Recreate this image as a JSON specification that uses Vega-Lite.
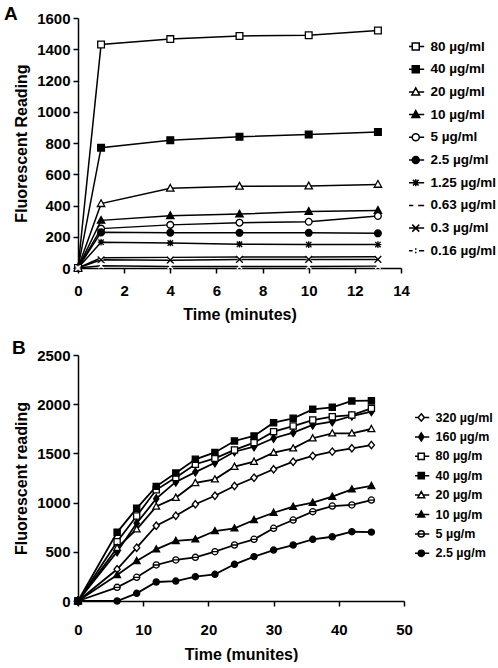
{
  "$schema": "https://vega.github.io/schema/vega-lite/v6.json",
  "background": "white",
  "padding": {"left": 4, "top": 5, "right": 0, "bottom": 0},
  "spacing": 17,
  "resolve": {"scale": {"shape": "independent", "fill": "independent", "stroke": "independent"}, "legend": {"shape": "independent", "fill": "independent", "stroke": "independent"}},
  "config": {
    "view": {"stroke": null},
    "font": "Liberation Sans",
    "axis": {
      "grid": false,
      "domainColor": "black",
      "domainWidth": 1.5,
      "tickColor": "black",
      "tickWidth": 1.5,
      "tickSize": 5,
      "labelFont": "Liberation Sans",
      "labelFontWeight": "bold",
      "labelFontSize": 15,
      "labelColor": "black",
      "labelFlush": false,
      "labelOverlap": false,
      "format": "d",
      "titleFont": "Liberation Sans",
      "titleFontWeight": "bold",
      "titleFontSize": 16,
      "titleColor": "black"
    },
    "axisY": {"labelPadding": 3, "titlePadding": 7},
    "legend": {
      "labelFont": "Liberation Sans",
      "labelFontWeight": "bold",
      "labelColor": "black",
      "padding": 0,
      "symbolStrokeWidth": 1.5,
      "symbolStrokeColor": "black"
    },
    "title": {"font": "Liberation Sans", "fontWeight": "bold", "fontSize": 19, "color": "black"}
  },
  "datasets": {
    "a": [
      {"c": "80 µg/ml", "t": 0, "v": 0}, {"c": "80 µg/ml", "t": 1, "v": 1430}, {"c": "80 µg/ml", "t": 4, "v": 1465}, {"c": "80 µg/ml", "t": 7, "v": 1485}, {"c": "80 µg/ml", "t": 10, "v": 1490}, {"c": "80 µg/ml", "t": 13, "v": 1520},
      {"c": "40 µg/ml", "t": 0, "v": 0}, {"c": "40 µg/ml", "t": 1, "v": 770}, {"c": "40 µg/ml", "t": 4, "v": 818}, {"c": "40 µg/ml", "t": 7, "v": 840}, {"c": "40 µg/ml", "t": 10, "v": 855}, {"c": "40 µg/ml", "t": 13, "v": 870},
      {"c": "20 µg/ml", "t": 0, "v": 0}, {"c": "20 µg/ml", "t": 1, "v": 412}, {"c": "20 µg/ml", "t": 4, "v": 510}, {"c": "20 µg/ml", "t": 7, "v": 523}, {"c": "20 µg/ml", "t": 10, "v": 525}, {"c": "20 µg/ml", "t": 13, "v": 535},
      {"c": "10 µg/ml", "t": 0, "v": 0}, {"c": "10 µg/ml", "t": 1, "v": 305}, {"c": "10 µg/ml", "t": 4, "v": 335}, {"c": "10 µg/ml", "t": 7, "v": 345}, {"c": "10 µg/ml", "t": 10, "v": 362}, {"c": "10 µg/ml", "t": 13, "v": 368},
      {"c": "5 µg/ml", "t": 0, "v": 0}, {"c": "5 µg/ml", "t": 1, "v": 252}, {"c": "5 µg/ml", "t": 4, "v": 276}, {"c": "5 µg/ml", "t": 7, "v": 290}, {"c": "5 µg/ml", "t": 10, "v": 296}, {"c": "5 µg/ml", "t": 13, "v": 333},
      {"c": "2.5 µg/ml", "t": 0, "v": 0}, {"c": "2.5 µg/ml", "t": 1, "v": 228}, {"c": "2.5 µg/ml", "t": 4, "v": 226}, {"c": "2.5 µg/ml", "t": 7, "v": 225}, {"c": "2.5 µg/ml", "t": 10, "v": 225}, {"c": "2.5 µg/ml", "t": 13, "v": 222},
      {"c": "1.25 µg/ml", "t": 0, "v": 0}, {"c": "1.25 µg/ml", "t": 1, "v": 165}, {"c": "1.25 µg/ml", "t": 4, "v": 160}, {"c": "1.25 µg/ml", "t": 7, "v": 152}, {"c": "1.25 µg/ml", "t": 10, "v": 150}, {"c": "1.25 µg/ml", "t": 13, "v": 150},
      {"c": "0.63 µg/ml", "t": 0, "v": 0}, {"c": "0.63 µg/ml", "t": 1, "v": 65}, {"c": "0.63 µg/ml", "t": 4, "v": 68}, {"c": "0.63 µg/ml", "t": 7, "v": 70}, {"c": "0.63 µg/ml", "t": 10, "v": 70}, {"c": "0.63 µg/ml", "t": 13, "v": 72},
      {"c": "0.3 µg/ml", "t": 0, "v": 0}, {"c": "0.3 µg/ml", "t": 1, "v": 52}, {"c": "0.3 µg/ml", "t": 4, "v": 50}, {"c": "0.3 µg/ml", "t": 7, "v": 55}, {"c": "0.3 µg/ml", "t": 10, "v": 55}, {"c": "0.3 µg/ml", "t": 13, "v": 55},
      {"c": "0.16 µg/ml", "t": 0, "v": 0}, {"c": "0.16 µg/ml", "t": 1, "v": 15}, {"c": "0.16 µg/ml", "t": 4, "v": 10}, {"c": "0.16 µg/ml", "t": 7, "v": 10}, {"c": "0.16 µg/ml", "t": 10, "v": 10}, {"c": "0.16 µg/ml", "t": 13, "v": 12}
    ],
    "b": [
      {"c": "320 µg/ml", "t": 0, "v": 0}, {"c": "320 µg/ml", "t": 6, "v": 322}, {"c": "320 µg/ml", "t": 9, "v": 542}, {"c": "320 µg/ml", "t": 12, "v": 765}, {"c": "320 µg/ml", "t": 15, "v": 867}, {"c": "320 µg/ml", "t": 18, "v": 983}, {"c": "320 µg/ml", "t": 21, "v": 1070}, {"c": "320 µg/ml", "t": 24, "v": 1169}, {"c": "320 µg/ml", "t": 27, "v": 1253}, {"c": "320 µg/ml", "t": 30, "v": 1339}, {"c": "320 µg/ml", "t": 33, "v": 1416}, {"c": "320 µg/ml", "t": 36, "v": 1474}, {"c": "320 µg/ml", "t": 39, "v": 1518}, {"c": "320 µg/ml", "t": 42, "v": 1552}, {"c": "320 µg/ml", "t": 45, "v": 1585},
      {"c": "160 µg/m", "t": 0, "v": 0}, {"c": "160 µg/m", "t": 6, "v": 501}, {"c": "160 µg/m", "t": 9, "v": 790}, {"c": "160 µg/m", "t": 12, "v": 1040}, {"c": "160 µg/m", "t": 15, "v": 1210}, {"c": "160 µg/m", "t": 18, "v": 1310}, {"c": "160 µg/m", "t": 21, "v": 1405}, {"c": "160 µg/m", "t": 24, "v": 1517}, {"c": "160 µg/m", "t": 27, "v": 1568}, {"c": "160 µg/m", "t": 30, "v": 1654}, {"c": "160 µg/m", "t": 33, "v": 1711}, {"c": "160 µg/m", "t": 36, "v": 1789}, {"c": "160 µg/m", "t": 39, "v": 1822}, {"c": "160 µg/m", "t": 42, "v": 1880}, {"c": "160 µg/m", "t": 45, "v": 1924},
      {"c": "80 µg/m", "t": 0, "v": 0}, {"c": "80 µg/m", "t": 6, "v": 603}, {"c": "80 µg/m", "t": 9, "v": 864}, {"c": "80 µg/m", "t": 12, "v": 1130}, {"c": "80 µg/m", "t": 15, "v": 1255}, {"c": "80 µg/m", "t": 18, "v": 1390}, {"c": "80 µg/m", "t": 21, "v": 1450}, {"c": "80 µg/m", "t": 24, "v": 1535}, {"c": "80 µg/m", "t": 27, "v": 1609}, {"c": "80 µg/m", "t": 30, "v": 1721}, {"c": "80 µg/m", "t": 33, "v": 1778}, {"c": "80 µg/m", "t": 36, "v": 1839}, {"c": "80 µg/m", "t": 39, "v": 1873}, {"c": "80 µg/m", "t": 42, "v": 1890}, {"c": "80 µg/m", "t": 45, "v": 1958},
      {"c": "40 µg/m", "t": 0, "v": 0}, {"c": "40 µg/m", "t": 6, "v": 698}, {"c": "40 µg/m", "t": 9, "v": 942}, {"c": "40 µg/m", "t": 12, "v": 1165}, {"c": "40 µg/m", "t": 15, "v": 1300}, {"c": "40 µg/m", "t": 18, "v": 1440}, {"c": "40 µg/m", "t": 21, "v": 1510}, {"c": "40 µg/m", "t": 24, "v": 1626}, {"c": "40 µg/m", "t": 27, "v": 1677}, {"c": "40 µg/m", "t": 30, "v": 1812}, {"c": "40 µg/m", "t": 33, "v": 1857}, {"c": "40 µg/m", "t": 36, "v": 1948}, {"c": "40 µg/m", "t": 39, "v": 1968}, {"c": "40 µg/m", "t": 42, "v": 2033}, {"c": "40 µg/m", "t": 45, "v": 2036},
      {"c": "20 µg/m", "t": 0, "v": 0}, {"c": "20 µg/m", "t": 6, "v": 540}, {"c": "20 µg/m", "t": 9, "v": 729}, {"c": "20 µg/m", "t": 12, "v": 960}, {"c": "20 µg/m", "t": 15, "v": 1050}, {"c": "20 µg/m", "t": 18, "v": 1200}, {"c": "20 µg/m", "t": 21, "v": 1237}, {"c": "20 µg/m", "t": 24, "v": 1365}, {"c": "20 µg/m", "t": 27, "v": 1416}, {"c": "20 µg/m", "t": 30, "v": 1508}, {"c": "20 µg/m", "t": 33, "v": 1552}, {"c": "20 µg/m", "t": 36, "v": 1654}, {"c": "20 µg/m", "t": 39, "v": 1704}, {"c": "20 µg/m", "t": 42, "v": 1704}, {"c": "20 µg/m", "t": 45, "v": 1748},
      {"c": "10 µg/m", "t": 0, "v": 0}, {"c": "10 µg/m", "t": 6, "v": 264}, {"c": "10 µg/m", "t": 9, "v": 407}, {"c": "10 µg/m", "t": 12, "v": 525}, {"c": "10 µg/m", "t": 15, "v": 610}, {"c": "10 µg/m", "t": 18, "v": 627}, {"c": "10 µg/m", "t": 21, "v": 711}, {"c": "10 µg/m", "t": 24, "v": 739}, {"c": "10 µg/m", "t": 27, "v": 823}, {"c": "10 µg/m", "t": 30, "v": 897}, {"c": "10 µg/m", "t": 33, "v": 958}, {"c": "10 µg/m", "t": 36, "v": 999}, {"c": "10 µg/m", "t": 39, "v": 1060}, {"c": "10 µg/m", "t": 42, "v": 1135}, {"c": "10 µg/m", "t": 45, "v": 1169},
      {"c": "5 µg/m", "t": 0, "v": 0}, {"c": "5 µg/m", "t": 6, "v": 139}, {"c": "5 µg/m", "t": 9, "v": 241}, {"c": "5 µg/m", "t": 12, "v": 366}, {"c": "5 µg/m", "t": 15, "v": 417}, {"c": "5 µg/m", "t": 18, "v": 444}, {"c": "5 µg/m", "t": 21, "v": 501}, {"c": "5 µg/m", "t": 24, "v": 569}, {"c": "5 µg/m", "t": 27, "v": 627}, {"c": "5 µg/m", "t": 30, "v": 739}, {"c": "5 µg/m", "t": 33, "v": 823}, {"c": "5 µg/m", "t": 36, "v": 908}, {"c": "5 µg/m", "t": 39, "v": 965}, {"c": "5 µg/m", "t": 42, "v": 976}, {"c": "5 µg/m", "t": 45, "v": 1026},
      {"c": "2.5 µg/m", "t": 0, "v": 0}, {"c": "2.5 µg/m", "t": 6, "v": 0}, {"c": "2.5 µg/m", "t": 9, "v": 78}, {"c": "2.5 µg/m", "t": 12, "v": 193}, {"c": "2.5 µg/m", "t": 15, "v": 203}, {"c": "2.5 µg/m", "t": 18, "v": 247}, {"c": "2.5 µg/m", "t": 21, "v": 271}, {"c": "2.5 µg/m", "t": 24, "v": 373}, {"c": "2.5 µg/m", "t": 27, "v": 451}, {"c": "2.5 µg/m", "t": 30, "v": 518}, {"c": "2.5 µg/m", "t": 33, "v": 569}, {"c": "2.5 µg/m", "t": 36, "v": 627}, {"c": "2.5 µg/m", "t": 39, "v": 653}, {"c": "2.5 µg/m", "t": 42, "v": 704}, {"c": "2.5 µg/m", "t": 45, "v": 700}
    ]
  },
  "vconcat": [
    {
      "width": 323,
      "height": 250,
      "title": {"text": "A", "anchor": "start", "frame": "group", "dx": -74, "offset": -13},
      "data": {"name": "a"},
      "resolve": {"scale": {"shape": "independent", "fill": "independent", "stroke": "independent"}},
      "encoding": {
        "x": {"field": "t", "type": "quantitative", "scale": {"domain": [0, 14], "nice": false}, "axis": {"title": "Time (minutes)", "values": [0, 2, 4, 6, 8, 10, 12, 14], "labelPadding": 10, "titlePadding": 8}},
        "y": {"field": "v", "type": "quantitative", "scale": {"domain": [0, 1600], "nice": false}, "axis": {"title": "Fluorescent Reading", "values": [0, 200, 400, 600, 800, 1000, 1200, 1400, 1600]}}
      },
      "layer": [
        {"mark": {"type": "line", "color": "black", "strokeWidth": 1.5}, "encoding": {"detail": {"field": "c", "type": "nominal"}}},
        {
          "mark": {"type": "point", "filled": true, "size": 45, "strokeWidth": 1.3, "opacity": 1},
          "encoding": {
            "shape": {"field": "c", "type": "nominal", "legend": null,
              "scale": {"domain": ["80 µg/ml", "40 µg/ml", "20 µg/ml", "10 µg/ml", "5 µg/ml", "2.5 µg/ml", "1.25 µg/ml", "0.63 µg/ml", "0.3 µg/ml", "0.16 µg/ml"],
                "range": ["M-1,-1H1V1H-1Z", "M-1,-1H1V1H-1Z", "M0,-1.15L1.1,0.85H-1.1Z", "M0,-1.15L1.1,0.85H-1.1Z", "M1,0A1,1,0,1,1,-1,0A1,1,0,1,1,1,0Z", "M1,0A1,1,0,1,1,-1,0A1,1,0,1,1,1,0Z", "M-1,0H1M0,-1V1M-0.8,-0.8L0.8,0.8M-0.8,0.8L0.8,-0.8", "M-0.5,-0.5H0.5V0.5H-0.5Z", "M-1,-1L1,1M-1,1L1,-1", "M-0.8,-0.8L0.8,0.8M-0.8,0.8L0.8,-0.8"]}},
            "fill": {"field": "c", "type": "nominal", "legend": null,
              "scale": {"domain": ["80 µg/ml", "40 µg/ml", "20 µg/ml", "10 µg/ml", "5 µg/ml", "2.5 µg/ml", "1.25 µg/ml", "0.63 µg/ml", "0.3 µg/ml", "0.16 µg/ml"],
                "range": ["white", "black", "white", "black", "white", "black", "black", "white", "black", "white"]}},
            "stroke": {"field": "c", "type": "nominal", "legend": null,
              "scale": {"domain": ["80 µg/ml", "40 µg/ml", "20 µg/ml", "10 µg/ml", "5 µg/ml", "2.5 µg/ml", "1.25 µg/ml", "0.63 µg/ml", "0.3 µg/ml", "0.16 µg/ml"],
                "range": ["black", "black", "black", "black", "black", "black", "black", "white", "black", "white"]}}
          }
        },
        {
          "mark": {"type": "point", "filled": true, "size": 0, "strokeWidth": 1.3, "opacity": 1},
          "encoding": {
            "shape": {"field": "c", "type": "nominal",
              "scale": {"domain": ["80 µg/ml", "40 µg/ml", "20 µg/ml", "10 µg/ml", "5 µg/ml", "2.5 µg/ml", "1.25 µg/ml", "0.63 µg/ml", "0.3 µg/ml", "0.16 µg/ml"],
                "range": ["M-2.4,0H-1M1,0H2.4M-1,-1H1V1H-1Z", "M-2.4,0H-1M1,0H2.4M-1,-1H1V1H-1Z", "M-2.4,0H-0.63M0.63,0H2.4M0,-1.15L1.1,0.85H-1.1Z", "M-2.4,0H-0.63M0.63,0H2.4M0,-1.15L1.1,0.85H-1.1Z", "M-2.4,0H-1M1,0H2.4M1,0A1,1,0,1,1,-1,0A1,1,0,1,1,1,0Z", "M-2.4,0H-1M1,0H2.4M1,0A1,1,0,1,1,-1,0A1,1,0,1,1,1,0Z", "M-2.4,0H2.4M0,-1V1M-0.8,-0.8L0.8,0.8M-0.8,0.8L0.8,-0.8", "M-2.4,0H-0.7M0.7,0H2.4", "M-2.4,0H2.4M-1,-1L1,1M-1,1L1,-1", "M-2.4,0H-0.9M0.9,0H2.4M0,-0.7V-0.3M0,0.3V0.7"]},
              "legend": {"title": null, "orient": "none", "legendX": 331, "legendY": 21, "symbolSize": 49, "labelFontSize": 13.5, "rowPadding": 7.7, "clipHeight": 15, "labelOffset": 8}},
            "fill": {"field": "c", "type": "nominal",
              "scale": {"domain": ["80 µg/ml", "40 µg/ml", "20 µg/ml", "10 µg/ml", "5 µg/ml", "2.5 µg/ml", "1.25 µg/ml", "0.63 µg/ml", "0.3 µg/ml", "0.16 µg/ml"],
                "range": ["white", "black", "white", "black", "white", "black", "black", "white", "black", "white"]},
              "legend": {"title": null, "orient": "none", "legendX": 331, "legendY": 21, "symbolSize": 49, "labelFontSize": 13.5, "rowPadding": 7.7, "clipHeight": 15, "labelOffset": 8}},
            "stroke": {"field": "c", "type": "nominal",
              "scale": {"domain": ["80 µg/ml", "40 µg/ml", "20 µg/ml", "10 µg/ml", "5 µg/ml", "2.5 µg/ml", "1.25 µg/ml", "0.63 µg/ml", "0.3 µg/ml", "0.16 µg/ml"],
                "range": ["black", "black", "black", "black", "black", "black", "black", "black", "black", "black"]},
              "legend": {"title": null, "orient": "none", "legendX": 331, "legendY": 21, "symbolSize": 49, "labelFontSize": 13.5, "rowPadding": 7.7, "clipHeight": 15, "labelOffset": 8}}
          }
        }
      ]
    },
    {
      "width": 326,
      "height": 246,
      "title": {"text": "B", "anchor": "start", "frame": "group", "dx": -66, "offset": -10},
      "data": {"name": "b"},
      "resolve": {"scale": {"shape": "independent", "fill": "independent", "stroke": "independent"}},
      "encoding": {
        "x": {"field": "t", "type": "quantitative", "scale": {"domain": [0, 50], "nice": false}, "axis": {"title": "Time (munites)", "values": [0, 10, 20, 30, 40, 50], "labelPadding": 16, "titlePadding": 9}},
        "y": {"field": "v", "type": "quantitative", "scale": {"domain": [0, 2500], "nice": false}, "axis": {"title": "Fluorescent reading", "values": [0, 500, 1000, 1500, 2000, 2500]}}
      },
      "layer": [
        {"mark": {"type": "line", "color": "black", "strokeWidth": 1.8}, "encoding": {"detail": {"field": "c", "type": "nominal"}}},
        {
          "mark": {"type": "point", "filled": true, "size": 38, "strokeWidth": 1.3, "opacity": 1},
          "encoding": {
            "shape": {"field": "c", "type": "nominal", "legend": null,
              "scale": {"domain": ["320 µg/ml", "160 µg/m", "80 µg/m", "40 µg/m", "20 µg/m", "10 µg/m", "5 µg/m", "2.5 µg/m"],
                "range": ["M0,-1.2L1,0L0,1.2L-1,0Z", "M0,-1.3L0.85,0L0,1.3L-0.85,0Z", "M-1,-1H1V1H-1Z", "M-1,-1H1V1H-1Z", "M0,-1.15L1.1,0.85H-1.1Z", "M0,-1.15L1.1,0.85H-1.1Z", "M1,0A1,1,0,1,1,-1,0A1,1,0,1,1,1,0ZM-1,0H1", "M1,0A1,1,0,1,1,-1,0A1,1,0,1,1,1,0Z"]}},
            "fill": {"field": "c", "type": "nominal", "legend": null,
              "scale": {"domain": ["320 µg/ml", "160 µg/m", "80 µg/m", "40 µg/m", "20 µg/m", "10 µg/m", "5 µg/m", "2.5 µg/m"],
                "range": ["white", "black", "white", "black", "white", "black", "white", "black"]}},
            "stroke": {"value": "black"}
          }
        },
        {
          "mark": {"type": "point", "filled": true, "size": 0, "strokeWidth": 1.3, "opacity": 1},
          "encoding": {
            "shape": {"field": "c", "type": "nominal",
              "scale": {"domain": ["320 µg/ml", "160 µg/m", "80 µg/m", "40 µg/m", "20 µg/m", "10 µg/m", "5 µg/m", "2.5 µg/m"],
                "range": ["M-2.6,0H-1M1,0H2.6M0,-1.2L1,0L0,1.2L-1,0Z", "M-2.6,0H-0.85M0.85,0H2.6M0,-1.3L0.85,0L0,1.3L-0.85,0Z", "M-2.6,0H-1M1,0H2.6M-1,-1H1V1H-1Z", "M-2.6,0H-1M1,0H2.6M-1,-1H1V1H-1Z", "M-2.6,0H-0.63M0.63,0H2.6M0,-1.15L1.1,0.85H-1.1Z", "M-2.6,0H-0.63M0.63,0H2.6M0,-1.15L1.1,0.85H-1.1Z", "M-2.6,0H2.6M1,0A1,1,0,1,1,-1,0A1,1,0,1,1,1,0Z", "M-2.6,0H-1M1,0H2.6M1,0A1,1,0,1,1,-1,0A1,1,0,1,1,1,0Z"]},
              "legend": {"title": null, "orient": "none", "legendX": 337, "legendY": 56, "symbolSize": 38, "labelFontSize": 12.5, "rowPadding": 6.4, "clipHeight": 13, "labelOffset": 8}},
            "fill": {"field": "c", "type": "nominal",
              "scale": {"domain": ["320 µg/ml", "160 µg/m", "80 µg/m", "40 µg/m", "20 µg/m", "10 µg/m", "5 µg/m", "2.5 µg/m"],
                "range": ["white", "black", "white", "black", "white", "black", "white", "black"]},
              "legend": {"title": null, "orient": "none", "legendX": 337, "legendY": 56, "symbolSize": 38, "labelFontSize": 12.5, "rowPadding": 6.4, "clipHeight": 13, "labelOffset": 8}},
            "stroke": {"field": "c", "type": "nominal",
              "scale": {"domain": ["320 µg/ml", "160 µg/m", "80 µg/m", "40 µg/m", "20 µg/m", "10 µg/m", "5 µg/m", "2.5 µg/m"],
                "range": ["black", "black", "black", "black", "black", "black", "black", "black"]},
              "legend": {"title": null, "orient": "none", "legendX": 337, "legendY": 56, "symbolSize": 38, "labelFontSize": 12.5, "rowPadding": 6.4, "clipHeight": 13, "labelOffset": 8}}
          }
        }
      ]
    }
  ]
}
